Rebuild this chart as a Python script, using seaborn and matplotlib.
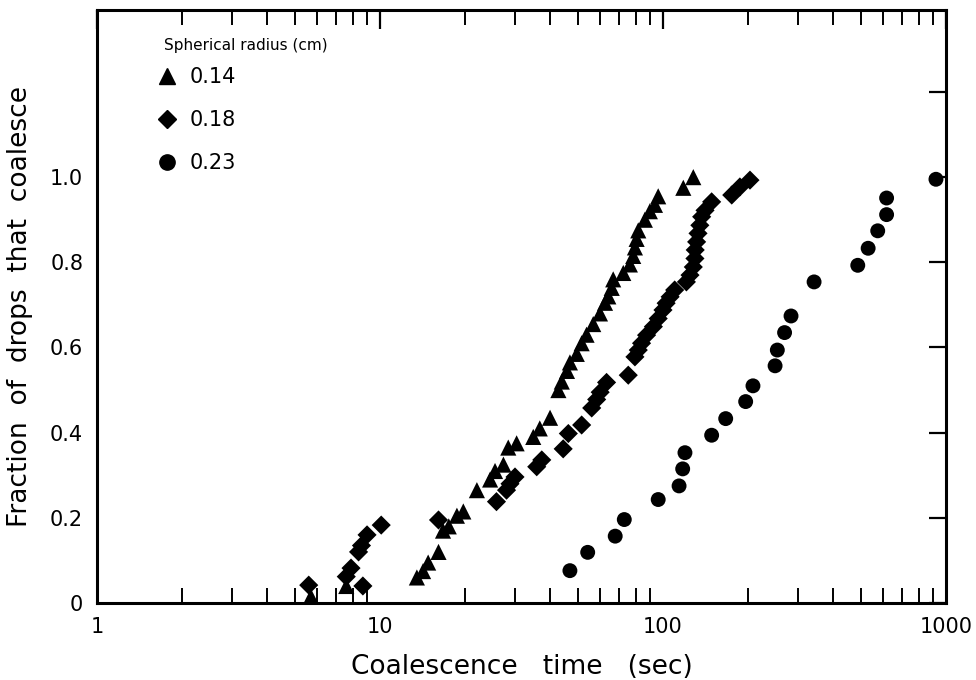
import numpy as np
import pandas as pd
import matplotlib
matplotlib.use("Agg")
import matplotlib.pyplot as plt
import seaborn as sns
from matplotlib.ticker import LogLocator, FixedLocator, NullFormatter, FixedFormatter
from matplotlib.lines import Line2D

# --- data ---
t_014 = [5.7, 7.6, 13.5, 14.2, 14.8, 16.1, 16.7, 17.5, 18.7, 19.7, 22.0, 24.5, 25.5,
         27.3, 28.4, 30.4, 34.8, 36.7, 39.9, 42.7, 43.9, 45.8, 46.9, 49.6, 51.6, 53.7,
         56.7, 59.9, 62.4, 64.1, 65.9, 66.7, 72.4, 76.4, 78.5, 79.6, 80.7, 81.8, 86.3,
         89.9, 93.7, 96.2, 118, 128]
f_014 = [0.015, 0.04, 0.06, 0.075, 0.095, 0.12, 0.17, 0.18, 0.205, 0.215, 0.265, 0.29,
         0.31, 0.325, 0.365, 0.375, 0.39, 0.41, 0.435, 0.50, 0.52, 0.545, 0.565, 0.585,
         0.61, 0.63, 0.655, 0.68, 0.705, 0.72, 0.74, 0.76, 0.775, 0.795, 0.815, 0.835,
         0.855, 0.875, 0.90, 0.92, 0.935, 0.955, 0.975, 1.0]

t_018 = [5.6, 7.6, 7.9, 8.7, 8.4, 8.6, 9.0, 10.1, 16.1, 25.8, 28.0, 28.8, 30.0, 35.8,
         37.3, 44.4, 46.3, 51.6, 56.0, 58.3, 60.0, 63.2, 75.4, 79.6, 81.8, 84.0, 87.5,
         92.5, 96.2, 100, 102.6, 106, 110, 121, 124.6, 128, 129.7, 130, 131.5, 133, 135,
         137, 140.8, 148.6, 175, 187, 203]
f_018 = [0.042, 0.062, 0.082, 0.04, 0.12, 0.135, 0.16, 0.183, 0.195, 0.238, 0.265, 0.28,
         0.296, 0.32, 0.336, 0.362, 0.398, 0.418, 0.458, 0.478, 0.495, 0.518, 0.535, 0.578,
         0.594, 0.61, 0.629, 0.649, 0.668, 0.688, 0.704, 0.719, 0.735, 0.754, 0.77, 0.789,
         0.809, 0.829, 0.848, 0.868, 0.887, 0.907, 0.922, 0.942, 0.958, 0.977, 0.993]

t_023 = [46.9, 54.2, 67.8, 73, 96.2, 114, 117.4, 119.6, 148.6, 166.6, 196, 208, 249,
         253.6, 269, 283.5, 342, 488, 531, 574, 617, 617, 922]
f_023 = [0.076, 0.119, 0.157, 0.196, 0.243, 0.275, 0.315, 0.353, 0.394, 0.433, 0.473,
         0.51, 0.557, 0.594, 0.635, 0.674, 0.754, 0.793, 0.833, 0.874, 0.912, 0.951, 0.995]

radius_labels = ["0.14", "0.18", "0.23"]
legend_title = "Spherical radius (cm)"
x_ticks = [1, 10, 100, 1000]
x_ticklabels = ["1", "10", "100", "1000"]
y_ticks = [0, 0.2, 0.4, 0.6, 0.8, 1.0, 1.2]
y_ticklabels = ["0", "0.2", "0.4", "0.6", "0.8", "1.0", ""]

df = pd.concat([
    pd.DataFrame({"time": t_014, "frac": f_014, "radius": radius_labels[0]}),
    pd.DataFrame({"time": t_018, "frac": f_018, "radius": radius_labels[1]}),
    pd.DataFrame({"time": t_023, "frac": f_023, "radius": radius_labels[2]}),
])

sns.set_style("white")
plt.rcParams["font.family"] = ["DejaVu Sans"]
plt.rcParams["text.color"] = "black"
plt.rcParams["axes.labelcolor"] = "black"
plt.rcParams["xtick.color"] = "black"
plt.rcParams["ytick.color"] = "black"

fig = plt.figure(figsize=(9.76, 6.8), dpi=100)
ax = fig.add_axes([0.0994, 0.1132, 0.8698, 0.8718])

markers = {"0.14": "^", "0.18": "D", "0.23": "o"}
sizes = {"0.14": 135, "0.18": 95, "0.23": 115}
for r in radius_labels:
    sub = df[df["radius"] == r]
    sns.scatterplot(data=sub, x="time", y="frac", marker=markers[r], s=sizes[r],
                    color="black", edgecolor="none", ax=ax, legend=False, zorder=3)

ax.set_xscale("log")
ax.set_xlim(1, 1000)
ax.set_ylim(0, 1.392)

ax.xaxis.set_major_locator(FixedLocator(x_ticks))
ax.xaxis.set_major_formatter(FixedFormatter(x_ticklabels))
ax.xaxis.set_minor_locator(LogLocator(base=10, subs=np.arange(2, 10)))
ax.xaxis.set_minor_formatter(NullFormatter())
ax.yaxis.set_major_locator(FixedLocator(y_ticks))
ax.yaxis.set_major_formatter(FixedFormatter(y_ticklabels))

for s in ax.spines.values():
    s.set_linewidth(2.2)
    s.set_color("black")

ax.tick_params(axis="both", which="major", direction="in", length=14, width=1.6,
               top=True, right=True, labelsize=15, pad=10, colors="black")
ax.tick_params(axis="x", which="minor", direction="in", length=11, width=1.4,
               top=True, bottom=True)
ax.tick_params(axis="y", which="major", length=12)

ax.set_xlabel("Coalescence   time   (sec)", fontsize=19, labelpad=12)
ax.set_ylabel("Fraction  of  drops  that  coalesce", fontsize=19, labelpad=12)

ax.text(0.079, 0.94, legend_title, transform=ax.transAxes, fontsize=11,
        ha="left", va="center")
handles = [Line2D([], [], linestyle="none", marker=markers[r], color="black",
                  markersize=11 if r != "0.18" else 9) for r in radius_labels]
leg = ax.legend(handles, radius_labels, frameon=False,
                loc="upper left", bbox_to_anchor=(0.055, 0.925), fontsize=15,
                labelspacing=1.1, handletextpad=0.6,
                handlelength=1.0, borderaxespad=0.2)

fig.savefig("out.png", dpi=100, facecolor="white")
